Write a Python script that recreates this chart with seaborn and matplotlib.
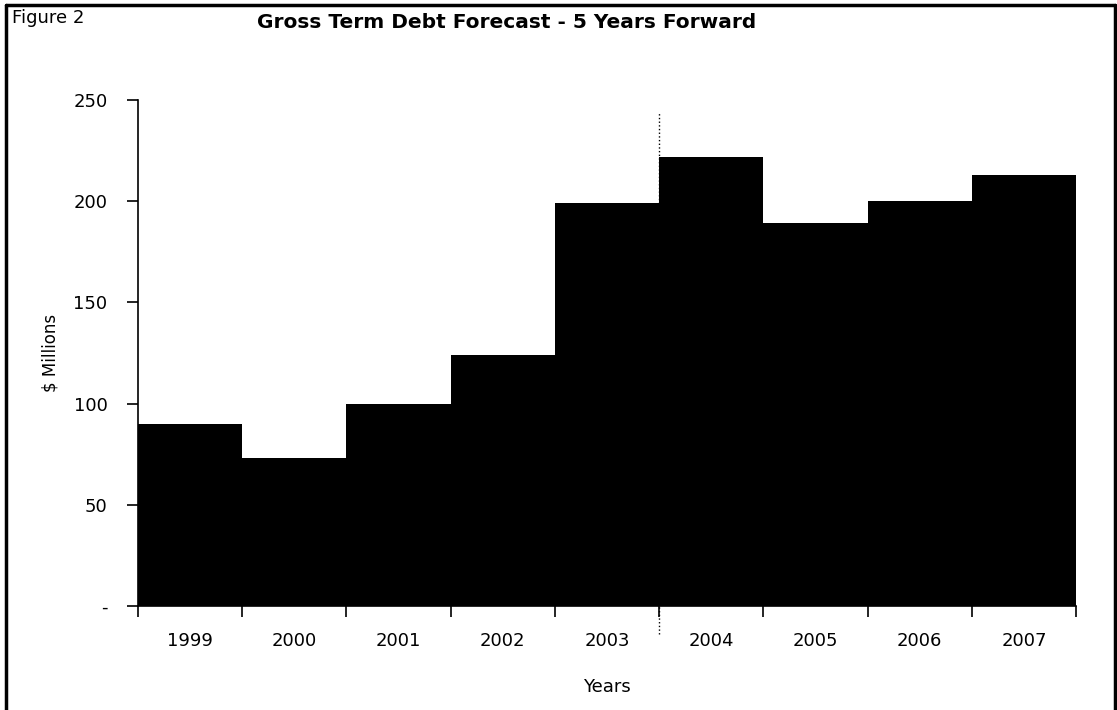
import matplotlib
matplotlib.use('Agg')
import pandas as pd
import seaborn as sns
import matplotlib.pyplot as plt
from matplotlib.lines import Line2D

years = ['1999', '2000', '2001', '2002', '2003', '2004', '2005', '2006', '2007']
debt = [90, 73, 100, 124, 199, 222, 189, 200, 213]
y_ticks = [0, 50, 100, 150, 200, 250]
y_labels = ['-', '50', '100', '150', '200', '250']

df = pd.DataFrame({'Year': years, 'Debt': debt})

sns.set_style('white')
plt.rcParams['font.family'] = ['DejaVu Sans']
plt.rcParams['text.color'] = 'black'
plt.rcParams['axes.labelcolor'] = 'black'
plt.rcParams['xtick.color'] = 'black'
plt.rcParams['ytick.color'] = 'black'

fig = plt.figure(figsize=(11.17, 7.1), dpi=100)
ax = fig.add_axes([0.1235, 0.1465, 0.8398, 0.7127])

sns.barplot(data=df, x='Year', y='Debt', color='black', width=1.0,
            saturation=1, linewidth=0, ax=ax)

ax.set_xlim(-0.5, len(years) - 0.5)
ax.set_ylim(0, 250)
ax.set_yticks(y_ticks)
ax.set_yticklabels(y_labels, fontsize=13)
# ticks on category boundaries, labels in the middle
ax.set_xticks([i - 0.5 for i in range(len(years) + 1)])
ax.set_xticklabels([])
ax.set_xticks(range(len(years)), minor=True)
ax.set_xticklabels(years, minor=True, fontsize=13)
ax.tick_params(axis='x', which='major', direction='out', length=8, width=1.2, color='black', bottom=True)
ax.tick_params(axis='x', which='minor', length=0, pad=19)
ax.tick_params(axis='y', direction='out', length=8, width=1.2, color='black', left=True, pad=14)

sns.despine(ax=ax)
ax.spines['left'].set_color('black')
ax.spines['bottom'].set_color('black')
ax.spines['left'].set_linewidth(1.2)
ax.spines['bottom'].set_linewidth(1.2)

ax.set_xlabel('Years', fontsize=13, labelpad=20)
ax.set_ylabel('$ Millions', fontsize=12, labelpad=10)

# dotted separator between actuals and forecast
ax.plot([4.5, 4.5], [-14, 244], color='black', linestyle=':', linewidth=1,
        clip_on=False, zorder=0)

fig.text(0.011, 0.975, 'Figure 2', fontsize=13, va='center', ha='left')
fig.text(0.454, 0.969, 'Gross Term Debt Forecast - 5 Years Forward', fontsize=14.5,
         fontweight='bold', va='center', ha='center')

# frame around the figure
for xs, ys in [([0.005, 0.998], [0.993, 0.993]), ([0.005, 0.005], [0.0, 0.993]),
               ([0.998, 0.998], [0.0, 0.993])]:
    fig.add_artist(Line2D(xs, ys, color='black', linewidth=2.5, transform=fig.transFigure))

fig.savefig('out.png', dpi=100)
